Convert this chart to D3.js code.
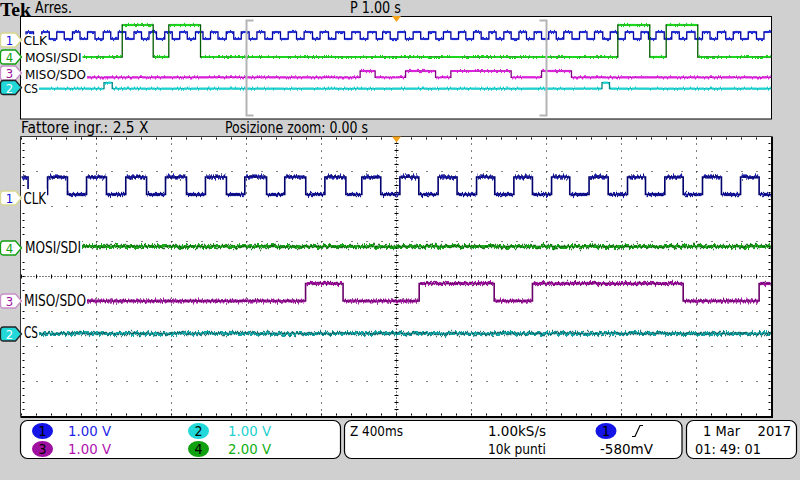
<!DOCTYPE html>
<html><head><meta charset="utf-8">
<script src="https://cdn.jsdelivr.net/npm/d3@7"></script>
<style>html,body{margin:0;padding:0;background:#d0d0d0;}svg{display:block}</style>
</head><body>
<svg id="c" width="800" height="480"></svg>
<script>
// ---------------- DATA ----------------
const channelNames   = ["CLK", "MOSI/SDI", "MISO/SDO", "CS"];
const channelNumbers = ["1", "4", "3", "2"];
// transition times (s) relative to trigger; every entry toggles the logic level
const clkEdges = [-4.94,-4.84,-4.73,-4.63,-4.53,-4.43,-4.32,-4.22,-4.12,-4.02,-3.91,-3.81,-3.71,-3.61,
  -3.50,-3.40,-3.30,-3.20,-3.09,-2.99,-2.89,-2.79,-2.68,-2.58,-2.48,-2.38,-2.27,-2.17,-2.07,
  -1.965,-1.861,-1.755,-1.653,-1.547,-1.444,-1.333,-1.232,-1.120,-1.019,-0.907,-0.809,-0.693,-0.596,
  -0.484,-0.382,-0.270,-0.185,-0.084,0.018,0.119,0.222,0.323,0.427,0.524,0.626,0.725,0.827,0.924,
  1.027,1.129,1.232,1.328,1.431,1.529,1.632,1.733,1.835,1.934,2.03,2.13,2.23,2.34,2.44,2.54,2.64,
  2.75,2.85,2.95,3.05,3.16,3.26,3.36,3.46,3.57,3.67,3.77,3.87,3.98,4.08,4.18,4.28,4.39,4.49,4.59,
  4.69,4.80,4.90];
const mosiEdges = [-3.657, -3.244, -3.036, -2.613, 2.951, 3.377, 3.596, 4.017];
const misoEdges = [-0.485, -0.285, 0.121, 0.521, 0.725, 1.529, 1.934, 2.333];
const csEdges   = [-3.90, -3.79, 2.74, 2.84];
const startLevels = [0, 0, 0, 0];
const voltsPerDiv = ["1.00 V", "1.00 V", "1.00 V", "2.00 V"]; // ch1, ch3, ch2, ch4 order below
const overviewRange = [-5, 5];   // 1.00 s/div
const zoomRange     = [-2, 2];   // Z 400ms/div (zoom factor 2.5 X)
const headerTexts = {left: "Arres.", pos: "P 1.00 s", zoomFactor: "Fattore ingr.: 2.5 X", zoomPos: "Posizione zoom: 0.00 s"};
const acqTexts = {zoom: "Z 400ms", rate: "1.00kS/s", points: "10k punti", trig: "-580mV", date1: "1 Mar", date2: "2017", time: "01: 49: 01"};

// ---------------- STYLE / LAYOUT ----------------
const svg = d3.select("#c");
const FONT = "'DejaVu Sans Condensed','Liberation Sans Narrow','DejaVu Sans',sans-serif";
const X0 = 21.5, X1 = 771.5;
const OV = {y0: 16.5, y1: 119};
const MN = {y0: 136.5, y1: 416.5};

const edgeSets = [clkEdges, mosiEdges, misoEdges, csEdges];
const chStyle = [
  {ov:{hi:32,lo:39,  col:"#1f2ad8", edge:"#0000a0", lab:45,  mk:40},
   mn:{hi:177,lo:194.5,col:"#1c1caa", edge:"#00006e", dark:"#05055e", lab:203.5, mk:198, bg:[189,207]},
   mkFill:"#fff", mkStroke:"#d8d890", mkText:"#1010e0", labW:[23.5,47], mlabW:[23.5,46]},
  {ov:{hi:25,lo:57,  col:"#1ed81e", edge:"#005a00", lab:61.5, mk:57},
   mn:{hi:166,lo:246.5,col:"#1fa81f", edge:"#0a6a0a", dark:"#0b5e0b", lab:252.5, mk:248, bg:[239,256]},
   mkFill:"#fff", mkStroke:"#10a010", mkText:"#10a010", labW:[25,81.5], mlabW:[25,81]},
  {ov:{hi:71,lo:77.3,col:"#dd20dd", edge:"#800080", lab:78.5, mk:73},
   mn:{hi:283.5,lo:301,col:"#a816a8", edge:"#6a006a", dark:"#650065", lab:305.5, mk:301, bg:[291,308]},
   mkFill:"#fff", mkStroke:"#c890c8", mkText:"#a010a0", labW:[25,86], mlabW:[24,86]},
  {ov:{hi:82.7,lo:88.7,col:"#1ed2d2", edge:"#008080", lab:92.5, mk:87.5},
   mn:{hi:318.5,lo:333.5,col:"#16a8a8", edge:"#0a6060", dark:"#0a5a5a", lab:338, mk:334, bg:[325,341]},
   mkFill:"#22d8d8", mkStroke:"#222", mkText:"#fff", labW:[24,38], mlabW:[24,38]}
];

// ---------------- FILTERS ----------------
const defs = svg.append("defs");
function noiseFilter(id, freq, scale, seed){
  const f = defs.append("filter").attr("id", id).attr("filterUnits","userSpaceOnUse")
    .attr("x",0).attr("y",0).attr("width",800).attr("height",480);
  f.append("feTurbulence").attr("type","fractalNoise").attr("baseFrequency",freq)
    .attr("numOctaves",2).attr("seed",seed).attr("result","n");
  f.append("feColorMatrix").attr("in","n").attr("type","matrix")
    .attr("values","0 0 0 0 0.5  0 1 0 0 0  0 0 0 0 0  0 0 0 0 1").attr("result","n2");
  f.append("feDisplacementMap").attr("in","SourceGraphic").attr("in2","n2")
    .attr("scale",scale).attr("xChannelSelector","R").attr("yChannelSelector","G");
}
noiseFilter("nM", "0.6 0.01", 7, 3);
noiseFilter("nM2", "0.8 0.01", 10, 11);
noiseFilter("nO", "0.7 0.01", 4, 5);

// ---------------- HELPERS ----------------
function stepPoints(edges, start, t0, t1){
  let lvl = start;
  edges.forEach(e => { if (e <= t0) lvl = 1 - lvl; });
  const pts = [[t0, lvl]];
  edges.forEach(e => { if (e > t0 && e < t1){ pts.push([e, lvl]); lvl = 1 - lvl; pts.push([e, lvl]); } });
  pts.push([t1, lvl]);
  return pts;
}
function segments(pts){
  const s = [];
  for (let i = 0; i < pts.length - 1; i++) if (pts[i][1] === pts[i+1][1] && pts[i+1][0] > pts[i][0]) s.push([pts[i][0], pts[i+1][0], pts[i][1]]);
  return s;
}
function txt(g, x, y, s, size, color, opts = {}){
  const t = g.append("text").attr("x", x).attr("y", y).text(s)
    .attr("font-family", opts.family || FONT).attr("font-size", size).attr("fill", color);
  if (opts.width) t.attr("textLength", opts.width).attr("lengthAdjust", "spacingAndGlyphs");
  if (opts.weight) t.attr("font-weight", opts.weight);
  if (opts.anchor) t.attr("text-anchor", opts.anchor);
  return t;
}
function marker(g, cy, st, num){
  const x = 0.5, h = 7;
  g.append("path")
    .attr("d", `M${x+3},${cy-h} L${x+15},${cy-h} L${x+21},${cy} L${x+15},${cy+h} L${x+3},${cy+h} Q${x},${cy+h} ${x},${cy+h-3} L${x},${cy-h+3} Q${x},${cy-h} ${x+3},${cy-h} Z`)
    .attr("fill", st.mkFill).attr("stroke", st.mkStroke).attr("stroke-width", 1.3);
  txt(g, x + 9, cy + 5, num, 13, st.mkText, {anchor: "middle", family: "'DejaVu Sans Condensed','DejaVu Sans',sans-serif"});
}

// ---------------- HEADER ----------------
txt(svg, 0, 15.5, "Tek", 19, "#000", {weight: "bold", family: "'Liberation Serif','DejaVu Serif',serif", width: 31});
txt(svg, 35, 13, headerTexts.left, 15, "#000", {width: 37});
txt(svg, 350, 13, headerTexts.pos, 15, "#000", {width: 51});
txt(svg, 21, 132.5, headerTexts.zoomFactor, 15, "#000", {width: 127.5});
txt(svg, 225, 132.5, headerTexts.zoomPos, 15, "#000", {width: 143});

// ---------------- OVERVIEW ----------------
const xOv = d3.scaleLinear().domain(overviewRange).range([X0, X1]);
svg.append("rect").attr("x", X0 - 1).attr("y", OV.y0).attr("width", X1 - X0 + 1).attr("height", OV.y1 - OV.y0)
  .attr("fill", "#fff").attr("stroke", "#000").attr("stroke-width", 1);
const ovG = svg.append("g");
edgeSets.forEach((edges, i) => {
  const st = chStyle[i].ov;
  const y = d3.scaleLinear().domain([0, 1]).range([st.lo, st.hi]);
  const pts = stepPoints(edges, startLevels[i], overviewRange[0], overviewRange[1]);
  const line = d3.line().x(d => xOv(d[0])).y(d => y(d[1]));
  ovG.append("path").attr("d", line(pts)).attr("fill", "none").attr("stroke", st.edge).attr("stroke-width", 1.3);
  const segs = segments(pts);
  ovG.append("g").attr("filter", "url(#nO)").selectAll("line").data(segs).join("line")
    .attr("x1", d => xOv(d[0]) + 0.8).attr("x2", d => xOv(d[1]) - 0.8)
    .attr("y1", d => y(d[2])).attr("y2", d => y(d[2]))
    .attr("stroke", st.col).attr("stroke-width", 2.2);
});
// zoom bracket
const zb = svg.append("g").attr("stroke", "#b4b4b4").attr("stroke-width", 2).attr("fill", "none");
[[xOv(zoomRange[0]), 1], [xOv(zoomRange[1]), -1]].forEach(([bx, dir]) => {
  zb.append("path").attr("d", `M${bx + dir*7},20.5 L${bx},20.5 L${bx},115.5 L${bx + dir*7},115.5`);
});
// overview labels & markers
const ovLab = svg.append("g");
channelNames.forEach((n, i) => {
  const st = chStyle[i];
  ovLab.append("rect").attr("x", X0).attr("y", st.ov.lab - 10.5).attr("width", st.labW[1] - X0 + 1).attr("height", 11.5).attr("fill", "#fff");
});
channelNames.forEach((n, i) => {
  const st = chStyle[i];
  txt(ovLab, st.labW[0], st.ov.lab, n, 12, "#000", {width: st.labW[1] - st.labW[0]});
});
[0, 1, 2, 3].forEach(i => marker(svg, chStyle[i].ov.mk, chStyle[i], channelNumbers[i]));
svg.append("path").attr("d", `M${xOv(0)-4.5},16 L${xOv(0)+4.5},16 L${xOv(0)},22 Z`).attr("fill", "#f4a21a");

// ---------------- MAIN GRATICULE ----------------
const xMn = d3.scaleLinear().domain(zoomRange).range([X0, X1]);
svg.append("rect").attr("x", X0 - 1).attr("y", MN.y0).attr("width", X1 - X0 + 1).attr("height", MN.y1 - MN.y0).attr("fill", "#fff");
const grid = svg.append("g").attr("stroke", "#000");
const divW = (X1 - X0) / 10, divH = (MN.y1 - MN.y0) / 8;
d3.range(1, 10).forEach(k => {
  const x = X0 + k * divW;
  if (k === 5) return;
  grid.append("line").attr("x1", x).attr("x2", x).attr("y1", MN.y0 + 7).attr("y2", MN.y1)
    .attr("stroke-width", 1).attr("stroke-dasharray", "1 6");
});
d3.range(1, 8).forEach(k => {
  const y = MN.y0 + k * divH;
  if (k === 4) return;
  grid.append("line").attr("x1", X0 + 15).attr("x2", X1).attr("y1", y).attr("y2", y)
    .attr("stroke-width", 1).attr("stroke-dasharray", "1 14");
});
// centre lines
const cx = X0 + 5 * divW, cy = MN.y0 + 4 * divH;
grid.append("line").attr("x1", X0).attr("x2", X1).attr("y1", cy).attr("y2", cy).attr("stroke-dasharray", "1 2").attr("stroke-width", 1);
grid.append("line").attr("x1", cx).attr("x2", cx).attr("y1", MN.y0).attr("y2", MN.y1).attr("stroke-dasharray", "1 2").attr("stroke-width", 1);
d3.range(0, 51).forEach(k => {
  const x = X0 + k * 15;
  grid.append("line").attr("x1", x).attr("x2", x).attr("y1", cy - 2).attr("y2", cy + 2).attr("stroke-width", 1);
  grid.append("line").attr("x1", x).attr("x2", x).attr("y1", MN.y0 + 1).attr("y2", MN.y0 + 3).attr("stroke-width", 1);
  grid.append("line").attr("x1", x).attr("x2", x).attr("y1", MN.y1 - 3).attr("y2", MN.y1 - 1).attr("stroke-width", 1);
});
d3.range(0, 41).forEach(k => {
  const y = MN.y0 + k * 7;
  grid.append("line").attr("x1", cx - 2).attr("x2", cx + 2).attr("y1", y).attr("y2", y).attr("stroke-width", 1);
  grid.append("line").attr("x1", X0 + 1).attr("x2", X0 + 3).attr("y1", y).attr("y2", y).attr("stroke-width", 1);
  grid.append("line").attr("x1", X1 - 3).attr("x2", X1 - 1).attr("y1", y).attr("y2", y).attr("stroke-width", 1);
});

// ---------------- MAIN TRACES ----------------
const mnG = svg.append("g");
edgeSets.forEach((edges, i) => {
  const st = chStyle[i].mn;
  const y = d3.scaleLinear().domain([0, 1]).range([st.lo, st.hi]);
  const pts = stepPoints(edges, startLevels[i], zoomRange[0], zoomRange[1]);
  const line = d3.line().x(d => xMn(d[0])).y(d => y(d[1]));
  mnG.append("path").attr("d", line(pts)).attr("fill", "none").attr("stroke", st.edge).attr("stroke-width", 1.6);
  const segs = segments(pts);
  mnG.append("g").attr("filter", "url(#nM)").selectAll("line").data(segs).join("line")
    .attr("x1", d => xMn(d[0]) + 1).attr("x2", d => xMn(d[1]) - 1)
    .attr("y1", d => y(d[2])).attr("y2", d => y(d[2]))
    .attr("stroke", st.col).attr("stroke-width", 3.2);
  mnG.append("g").attr("filter", "url(#nM2)").attr("opacity", 0.85).selectAll("line").data(segs).join("line")
    .attr("x1", d => xMn(d[0]) + 1).attr("x2", d => xMn(d[1]) - 1)
    .attr("y1", d => y(d[2])).attr("y2", d => y(d[2]))
    .attr("stroke", st.dark).attr("stroke-width", 1.4);
});
// border
svg.append("path").attr("d", `M${X0-1},${MN.y1} L${X0-1},${MN.y0} L${X1},${MN.y0}`).attr("fill", "none").attr("stroke", "#333").attr("stroke-width", 1);
svg.append("path").attr("d", `M${X0-1},${MN.y1+0.5} L${X1+0.5},${MN.y1+0.5} L${X1+0.5},${MN.y0}`).attr("fill", "none").attr("stroke", "#000").attr("stroke-width", 2);
svg.append("path").attr("d", `M${cx-4.5},${MN.y0} L${cx+4.5},${MN.y0} L${cx},${MN.y0+6} Z`).attr("fill", "#f4a21a");

// main labels & markers
const mnLab = svg.append("g");
channelNames.forEach((n, i) => {
  const st = chStyle[i];
  mnLab.append("rect").attr("x", X0).attr("y", st.mn.bg[0]).attr("width", st.mlabW[1] - X0 + 1).attr("height", st.mn.bg[1] - st.mn.bg[0]).attr("fill", "#fff");
  txt(mnLab, st.mlabW[0], st.mn.lab, n, 16, "#000", {width: st.mlabW[1] - st.mlabW[0]});
});
[0, 1, 2, 3].forEach(i => marker(svg, chStyle[i].mn.mk, chStyle[i], channelNumbers[i]));

// ---------------- BOTTOM READOUT ----------------
const bt = svg.append("g");
[[20.5, 340.5], [344.5, 682], [686.5, 796.5]].forEach(([a, b]) => {
  bt.append("rect").attr("x", a).attr("y", 420.5).attr("width", b - a).attr("height", 38).attr("rx", 7)
    .attr("fill", "#fff").attr("stroke", "#000").attr("stroke-width", 1.2);
});
const chip = [
  {n: "1", x: 42.5, y: 431, fill: "#1414e6", tc: "#1e1ee6", tx: 68, v: voltsPerDiv[0]},
  {n: "3", x: 42.5, y: 449, fill: "#a010a0", tc: "#b010b0", tx: 68, v: voltsPerDiv[1]},
  {n: "2", x: 198.5, y: 431, fill: "#22d8d8", tc: "#22d0d0", tx: 228, v: voltsPerDiv[2]},
  {n: "4", x: 198.5, y: 449, fill: "#10a010", tc: "#10b010", tx: 228, v: voltsPerDiv[3]}
];
chip.forEach(c => {
  bt.append("ellipse").attr("cx", c.x).attr("cy", c.y).attr("rx", 10.5).attr("ry", 8).attr("fill", c.fill);
  txt(bt, c.x, c.y + 5, c.n, 14, "#000", {anchor: "middle"});
  txt(bt, c.tx, c.y + 5, c.v, 14, c.tc, {width: 43});
});
txt(bt, 350, 436, acqTexts.zoom, 14, "#000", {width: 53});
txt(bt, 488, 436, acqTexts.rate, 14, "#000", {width: 58});
txt(bt, 488, 454, acqTexts.points, 14, "#000", {width: 58});
bt.append("ellipse").attr("cx", 606).attr("cy", 431).attr("rx", 10.5).attr("ry", 8).attr("fill", "#1414e6");
txt(bt, 606, 436, "1", 14, "#000", {anchor: "middle"});
bt.append("path").attr("d", "M632,436.5 L635,436.5 L640,425.5 L643,425.5").attr("fill", "none").attr("stroke", "#000").attr("stroke-width", 1.2);
txt(bt, 600, 454, acqTexts.trig, 14, "#000", {width: 53});
txt(bt, 703, 436, acqTexts.date1, 14, "#000", {width: 37});
txt(bt, 757.5, 436, acqTexts.date2, 14, "#000", {width: 33.5});
txt(bt, 695, 454, acqTexts.time, 14, "#000", {width: 66});
</script>
</body></html>
